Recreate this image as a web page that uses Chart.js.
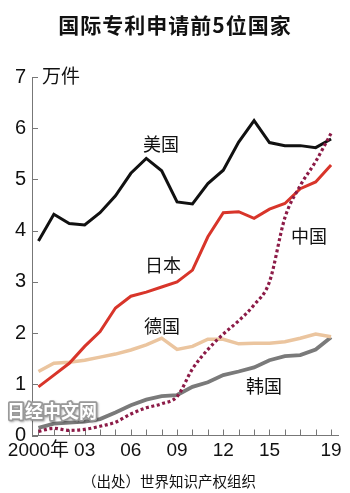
<!DOCTYPE html>
<html>
<head>
<meta charset="utf-8">
<script src="https://cdn.jsdelivr.net/npm/chart.js@4"></script>
<style>
  body { margin: 0; background: #fff; }
  #wrap { width: 350px; height: 493px; position: relative; }
</style>
</head>
<body>
<div id="wrap"><canvas id="myChart" width="350" height="493"></canvas></div>
<script>
// data (unit: 万件)
var years = [2000, 2001, 2002, 2003, 2004, 2005, 2006, 2007, 2008, 2009,
    2010, 2011, 2012, 2013, 2014, 2015, 2016, 2017, 2018, 2019];
var tickYears = [2000, 2003, 2006, 2009, 2012, 2015, 2019];
var tickLabels = ['2000年', '03', '06', '09', '12', '15', '19'];
var countries = ['中国', '美国', '日本', '德国', '韩国'];

var china = [0.08, 0.14, 0.10, 0.12, 0.18, 0.26, 0.42, 0.54, 0.62, 0.76,
    1.30, 1.68, 1.98, 2.24, 2.55, 3.0, 4.25, 4.88, 5.35, 5.9];
var usa = [3.80, 4.32, 4.14, 4.11, 4.35, 4.68, 5.12, 5.41, 5.17, 4.56,
    4.52, 4.92, 5.18, 5.73, 6.15, 5.72, 5.66, 5.66, 5.62, 5.79];
var japan = [0.95, 1.18, 1.41, 1.74, 2.03, 2.49, 2.72, 2.80, 2.90, 3.0,
    3.23, 3.88, 4.35, 4.37, 4.24, 4.42, 4.53, 4.82, 4.95, 5.28];
var germany = [1.25, 1.41, 1.43, 1.47, 1.53, 1.59, 1.67, 1.77, 1.90, 1.68,
    1.74, 1.88, 1.88, 1.79, 1.80, 1.80, 1.83, 1.90, 1.98, 1.93];
var korea = [0.15, 0.23, 0.25, 0.27, 0.32, 0.45, 0.59, 0.70, 0.77, 0.79,
    0.95, 1.04, 1.18, 1.25, 1.33, 1.47, 1.55, 1.57, 1.68, 1.92];

// label spots in data coordinates (year, value)
var labelSpots = [[2017.56, 3.90], [2007.95, 5.69], [2008.08, 3.33], [2008.02, 2.14], [2014.64, 0.97]];

var cjk = '"Noto Sans CJK SC", sans-serif';
var num = '"Liberation Sans", Arial, "Noto Sans CJK SC", sans-serif';

function pts(arr) {
    return arr.map(function(v, i) { return { x: years[i], y: v }; });
}

var extras = {
    id: 'extras',
    beforeDatasetsDraw: function(chart) {
        var c = chart.ctx, x = chart.scales.x, y = chart.scales.y, a = chart.chartArea;
        c.save();
        c.strokeStyle = '#777';
        c.lineWidth = 1;
        c.beginPath();
        years.forEach(function(yr) {
            var px = Math.round(x.getPixelForValue(yr)) + 0.5;
            c.moveTo(px, a.bottom);
            c.lineTo(px, a.bottom - 6);
        });
        for (var v = 0; v <= 7; v++) {
            var py = Math.round(y.getPixelForValue(v)) + 0.5;
            c.moveTo(a.left, py);
            c.lineTo(a.left + 6, py);
        }
        c.stroke();
        c.restore();
    },
    afterDraw: function(chart) {
        var c = chart.ctx, x = chart.scales.x, y = chart.scales.y, a = chart.chartArea;
        c.save();
        // title
        c.fillStyle = '#111';
        c.textAlign = 'center';
        c.textBaseline = 'middle';
        c.font = 'bold 21px ' + cjk;
        c.letterSpacing = '1px';
        c.fillText('国际专利申请前5位国家', 175, 25);
        c.letterSpacing = '0px';
        // unit
        c.textAlign = 'left';
        c.font = '19px ' + cjk;
        c.fillText('万件', a.left + 10, y.getPixelForValue(7) - 1);
        // series names
        c.textAlign = 'center';
        c.font = '18px ' + cjk;
        countries.forEach(function(name, i) {
            c.fillText(name, x.getPixelForValue(labelSpots[i][0]), y.getPixelForValue(labelSpots[i][1]));
        });
        // source
        c.font = '14.5px ' + cjk;
        c.fillText('（出处）世界知识产权组织', 169, 481);
        // watermark
        c.font = 'bold 18px ' + cjk;
        c.lineJoin = 'round';
        c.shadowColor = 'rgba(0,0,0,0.3)';
        c.shadowOffsetX = 1;
        c.shadowOffsetY = 1;
        c.shadowBlur = 2;
        c.strokeStyle = '#999';
        c.lineWidth = 3.5;
        c.strokeText('日经中文网', 52, 411);
        c.shadowColor = 'transparent';
        c.fillStyle = '#fff';
        c.fillText('日经中文网', 52, 411);
        c.restore();
    }
};

var ctx = document.getElementById('myChart').getContext('2d');
var myChart = new Chart(ctx, {
    type: 'line',
    data: {
        datasets: [{
            label: countries[0],
            data: pts(china),
            borderColor: '#8c1b47',
            borderWidth: 3.2,
            borderDash: [3, 2.6],
            cubicInterpolationMode: 'monotone'
        }, {
            label: countries[1],
            data: pts(usa),
            borderColor: '#111',
            borderWidth: 3
        }, {
            label: countries[2],
            data: pts(japan),
            borderColor: '#d8352a',
            borderWidth: 3
        }, {
            label: countries[3],
            data: pts(germany),
            borderColor: '#ebc59f',
            borderWidth: 3.5
        }, {
            label: countries[4],
            data: pts(korea),
            borderColor: '#7a7a7a',
            borderWidth: 3.8
        }]
    },
    options: {
        responsive: false,
        animation: false,
        events: [],
        layout: { padding: { left: 0, right: 12, top: 77, bottom: 0 } },
        elements: { point: { radius: 0 }, line: { fill: false, tension: 0 } },
        plugins: { legend: { display: false }, tooltip: { enabled: false } },
        scales: {
            x: {
                type: 'linear',
                min: 1999.58,
                max: 2019.45,
                grid: { display: false, drawTicks: false },
                border: { display: true, color: '#777', width: 1 },
                afterBuildTicks: function(s) {
                    s.ticks = tickYears.map(function(v) { return { value: v }; });
                },
                afterFit: function(s) { s.height = 57.5; },
                ticks: {
                    autoSkip: false,
                    maxRotation: 0,
                    padding: 4,
                    color: '#111',
                    font: { family: num, size: 19 },
                    callback: function(v) {
                        var i = tickYears.indexOf(v);
                        return i < 0 ? '' : tickLabels[i];
                    }
                }
            },
            y: {
                min: 0,
                max: 7,
                grid: { display: false, drawTicks: false },
                border: { display: true, color: '#777', width: 1 },
                afterFit: function(s) { s.width = 32; },
                ticks: {
                    stepSize: 1,
                    padding: 6,
                    color: '#111',
                    font: { family: num, size: 20 }
                }
            }
        }
    },
    plugins: [extras]
});
</script>
</body>
</html>
